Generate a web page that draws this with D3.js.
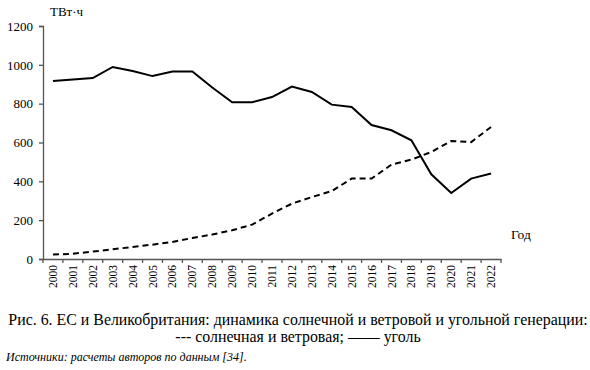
<!DOCTYPE html>
<html>
<head>
<meta charset="utf-8">
<script src="https://cdn.jsdelivr.net/npm/d3@7"></script>
<style>
  body { margin: 0; background: #fff; }
</style>
</head>
<body>
<div id="chart"></div>
<script>
// years on x axis
const years = d3.range(2000, 2023).map(String);

// coal generation, TWh (solid)
const coal = [917, 925, 932, 989, 968, 942, 966, 966, 883, 807, 807, 834, 888,
              860, 795, 783, 690, 663, 611, 436, 340, 414, 440];

// solar + wind generation, TWh (dashed)
const solarWind = [23, 27, 38, 50, 62, 74, 88, 108, 126, 148, 177, 234, 285,
                   319, 350, 414, 414, 486, 512, 551, 608, 602, 680];

const yTicks = [0, 200, 400, 600, 800, 1000, 1200];

const serif = "\"Liberation Serif\"";

const width = 590, height = 370;
const margin = { left: 43, top: 26, right: 89, bottom: 111 };

const svg = d3.select("#chart").append("svg")
    .attr("width", width)
    .attr("height", height);

const x = d3.scaleBand()
    .domain(years)
    .range([margin.left, width - margin.right]);

const y = d3.scaleLinear()
    .domain([0, 1200])
    .range([height - margin.bottom, margin.top]);

// y axis
const yAxis = svg.append("g")
    .attr("transform", `translate(${margin.left},0)`)
    .call(d3.axisLeft(y).tickValues(yTicks).tickSize(4).tickPadding(6).tickFormat(d3.format("d")));
yAxis.attr("font-family", null);
yAxis.selectAll("text").style("font-size", "13px").style("font-family", serif);
yAxis.selectAll("path, line").attr("stroke", "#555").attr("stroke-width", 1.3);

// x axis: ticks between categories
const xAxis = svg.append("g")
    .attr("transform", `translate(0,${height - margin.bottom})`)
    .call(d3.axisBottom(x).tickSize(0).tickPadding(0).tickSizeOuter(0));
xAxis.attr("font-family", null);
xAxis.select(".domain").attr("stroke", "#555").attr("stroke-width", 1.3);
xAxis.selectAll(".tick text")
    .style("font-size", "11.5px")
    .style("font-family", serif)
    .attr("text-anchor", "end")
    .attr("transform", "rotate(-90)")
    .attr("x", -6)
    .attr("y", 0)
    .attr("dy", "0.35em");
svg.append("g")
    .selectAll("line")
    .data(years.concat(["end"]))
    .join("line")
    .attr("x1", (d, i) => i < years.length ? x(d) : x.range()[1])
    .attr("x2", (d, i) => i < years.length ? x(d) : x.range()[1])
    .attr("y1", y(0))
    .attr("y2", y(0) + 4)
    .attr("stroke", "#555")
    .attr("stroke-width", 1.3);

const line = d3.line()
    .x((d, i) => x(years[i]) + x.bandwidth() / 2)
    .y(d => y(d));

svg.append("path")
    .datum(coal)
    .attr("fill", "none")
    .attr("stroke", "#000")
    .attr("stroke-width", 2)
    .attr("d", line);

svg.append("path")
    .datum(solarWind)
    .attr("fill", "none")
    .attr("stroke", "#000")
    .attr("stroke-width", 2)
    .attr("stroke-dasharray", "6,4")
    .attr("d", line);

// unit and axis titles
svg.append("text")
    .attr("x", 50).attr("y", 16)
    .style("font-family", serif)
    .style("font-size", "13px")
    .text("ТВт·ч");

svg.append("text")
    .attr("x", 511).attr("y", 239)
    .style("font-family", serif)
    .style("font-size", "13.5px")
    .text("Год");

// caption
svg.append("text")
    .attr("x", 298).attr("y", 325)
    .attr("text-anchor", "middle")
    .style("font-family", serif)
    .style("font-size", "15.9px")
    .text("Рис. 6. ЕС и Великобритания: динамика солнечной и ветровой и угольной генерации:");

svg.append("text")
    .attr("x", 298).attr("y", 342)
    .attr("text-anchor", "middle")
    .style("font-family", serif)
    .style("font-size", "15.9px")
    .text("--- солнечная и ветровая; —— уголь");

svg.append("text")
    .attr("x", 6).attr("y", 361)
    .style("font-family", serif)
    .style("font-size", "12px")
    .style("font-style", "italic")
    .text("Источники: расчеты авторов по данным [34].");
</script>
</body>
</html>
